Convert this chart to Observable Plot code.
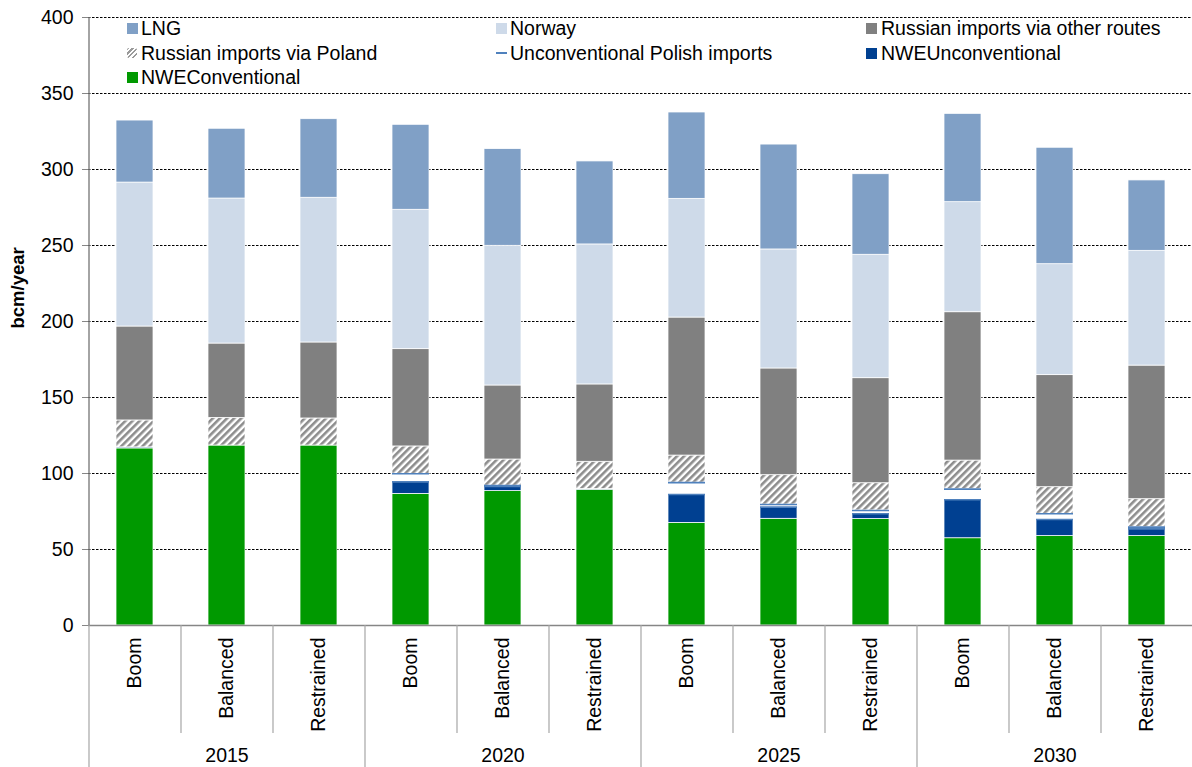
<!DOCTYPE html>
<html><head><meta charset="utf-8">
<script src="https://cdn.jsdelivr.net/npm/d3@7"></script>
<script src="https://cdn.jsdelivr.net/npm/@observablehq/plot@0.6"></script>
<style>
body{margin:0;background:#fff;font-family:"Liberation Sans",Arial,sans-serif;}
#wrap{position:relative;width:1192px;height:767px;overflow:hidden;}
.lg{position:absolute;font-size:19.5px;color:#000;white-space:nowrap;line-height:22px;}
.sw{position:absolute;width:11px;height:11px;}
</style></head><body><div id="wrap"></div>
<script>
const years = ["2015", "2020", "2025", "2030"];
const scenarios = ["Boom", "Balanced", "Restrained"];
const seriesNames = ["NWEConventional", "NWEUnconventional", "Unconventional Polish imports",
  "Russian imports via Poland", "Russian imports via other routes", "Norway", "LNG"];
const legendOrder = ["LNG", "Norway", "Russian imports via other routes",
  "Russian imports via Poland", "Unconventional Polish imports", "NWEUnconventional", "NWEConventional"];
const yTicks = [0, 50, 100, 150, 200, 250, 300, 350, 400];

// values per bar: 2015 Boom/Balanced/Restrained, 2020 ..., 2025 ..., 2030 ...
const nweConventional      = [116.5, 118.4, 118.4,  86.6, 88.4, 89.3,  67.5, 70.2, 70.0,  57.4, 58.8, 58.8];
const nweUnconventional    = [0.7, 0, 0,            7.9, 3.0, 0.5,     18.7, 7.7, 3.5,    25.3, 10.9, 4.8];
const polishUnconventional = [0, 0, 0,              5.3, 0.6, 0,       7.8, 1.7, 2.2,     7.0, 3.8, 1.1];
const russiaViaPoland      = [17.7, 18.2, 17.8,     18.0, 17.2, 17.9,  17.8, 19.3, 17.9,  18.8, 17.5, 18.4];
const russiaOther          = [61.8, 48.9, 50.0,     64.0, 48.7, 50.9,  90.8, 70.2, 69.1,  97.6, 73.7, 87.9];
const norway               = [94.7, 95.4, 95.2,     91.7, 91.9, 92.1,  78.1, 78.3, 81.2,  72.4, 73.0, 75.5];
const lng                  = [40.8, 45.9, 51.7,     55.9, 63.6, 54.6,  56.8, 69.0, 53.0,  58.1, 76.6, 46.3];

const seriesValues = [nweConventional, nweUnconventional, polishUnconventional, russiaViaPoland, russiaOther, norway, lng];
const fillOf = {
  "NWEConventional": "#009900",
  "NWEUnconventional": "#004091",
  "Unconventional Polish imports": "#ffffff",
  "Russian imports via Poland": "url(#hatch)",
  "Russian imports via other routes": "#808080",
  "Norway": "#CEDAE9",
  "LNG": "#80A0C6"
};
const POL = "Unconventional Polish imports";
const POL_LINE = "#4F81BD";

const keys = years.flatMap(y => scenarios.map(s => y + " " + s));
const bars = keys.map((k, i) => ({key: k, year: k.split(" ")[0], scenario: k.split(" ")[1]}));
const rows = keys.flatMap((k, i) => seriesNames.map((s, j) => ({key: k, series: s, value: seriesValues[j][i]})));

const W = 1192, H = 767, ML = 88, MR = 0, MT = 17, MB = 142;
const step = (W - ML - MR) / keys.length;
const grey = "#868686";
const FS = 19.5;

const stackOpts = {x: "key", y: "value", z: "series", order: seriesNames};

const chart = Plot.plot({
  width: W, height: H,
  marginLeft: ML, marginRight: MR, marginTop: MT, marginBottom: MB,
  style: {fontFamily: "Liberation Sans, Arial, sans-serif", fontSize: FS + "px", background: "white", color: "black"},
  x: {domain: keys, paddingInner: 0.6, paddingOuter: 0.3, axis: null},
  y: {domain: [0, 400], axis: null},
  color: {type: "identity"},
  marks: [
    Plot.gridY(yTicks.filter(d => d > 0), {stroke: "#000", strokeOpacity: 1, strokeDasharray: "2.5,1.5", strokeWidth: 1}),
    Plot.barY(rows, Plot.stackY({...stackOpts, fill: d => fillOf[d.series], stroke: "white", strokeWidth: 0.75})),
    Plot.tickY(rows, Plot.stackY1({...stackOpts, stroke: d => (d.series === POL && d.value > 0) ? POL_LINE : "none", strokeWidth: 1.6})),
    Plot.tickY(rows, Plot.stackY2({...stackOpts, stroke: d => (d.series === POL && d.value > 0) ? POL_LINE : "none", strokeWidth: 1.6})),
    Plot.ruleY([0], {stroke: grey, strokeWidth: 1.5}),
    // y axis line
    Plot.ruleX([keys[0]], {dx: -step / 2, stroke: grey, strokeWidth: 1.5}),
    Plot.axisY({ticks: yTicks, tickSize: 6, tickPadding: 9, stroke: grey, fill: "black", label: null, tickFormat: d => d, fontSize: FS}),
    // group separators below axis
    Plot.ruleX(bars.filter(d => d.scenario === scenarios[0]), {x: "key", y1: () => 0, y2: () => 0, insetBottom: -MB, dx: -step / 2, stroke: "#a6a6a6", strokeWidth: 1.2}),
    // inner separators
    Plot.ruleX(bars.filter(d => d.scenario !== scenarios[0]), {x: "key", y1: () => 0, y2: () => 0, insetBottom: -108, dx: -step / 2, stroke: "#a6a6a6", strokeWidth: 1.2}),
    // scenario labels
    Plot.text(bars, {x: "key", text: "scenario", frameAnchor: "bottom", dy: 12, rotate: -90, textAnchor: "end", lineAnchor: "middle", fill: "black", fontSize: FS}),
    // year labels
    Plot.text(years, {x: y => y + " " + scenarios[1], text: d => d, frameAnchor: "bottom", dy: 130, lineAnchor: "middle", fill: "black", fontSize: FS}),
    // y label
    Plot.text(["bcm/year"], {frameAnchor: "left", text: d => d, rotate: -90, dx: -70, dy: 7, fontWeight: "bold", fill: "black", fontSize: 18.5, lineAnchor: "middle"})
  ]
});

// hatch pattern
const defs = d3.select(chart).insert("defs", ":first-child");
const pat = defs.append("pattern").attr("id", "hatch").attr("patternUnits", "userSpaceOnUse")
  .attr("width", 5).attr("height", 5).attr("patternTransform", "rotate(45)");
pat.append("rect").attr("width", 5).attr("height", 5).attr("fill", "#ffffff");
pat.append("rect").attr("width", 2.6).attr("height", 5).attr("fill", "#8c8c8c");

const wrap = document.getElementById("wrap");
wrap.appendChild(chart);

// legend (overlaid in the plot area, like the original)
const colX = [[127, 141], [496, 510], [866, 881]];
const rowY = [28, 53, 77];
legendOrder.forEach((name, i) => {
  const c = i % 3, r = Math.floor(i / 3);
  const sw = document.createElement("div");
  sw.className = "sw";
  sw.style.left = colX[c][0] + "px";
  if (name === POL) {
    sw.style.height = "2px"; sw.style.top = (rowY[r] - 1) + "px"; sw.style.background = POL_LINE;
  } else if (name === "Russian imports via Poland") {
    sw.style.width = "10px"; sw.style.height = "10px"; sw.style.top = (rowY[r] - 5) + "px";
    sw.style.borderRadius = "2px";
    sw.style.background = "repeating-linear-gradient(135deg, #9a9a9a 0 1.6px, #ffffff 1.6px 3.4px)";
  } else {
    sw.style.top = (rowY[r] - 5.5) + "px"; sw.style.background = fillOf[name];
  }
  wrap.appendChild(sw);
  const t = document.createElement("div");
  t.className = "lg";
  t.textContent = name;
  t.style.left = colX[c][1] + "px";
  t.style.top = (rowY[r] - 11) + "px";
  wrap.appendChild(t);
});
</script></body></html>
